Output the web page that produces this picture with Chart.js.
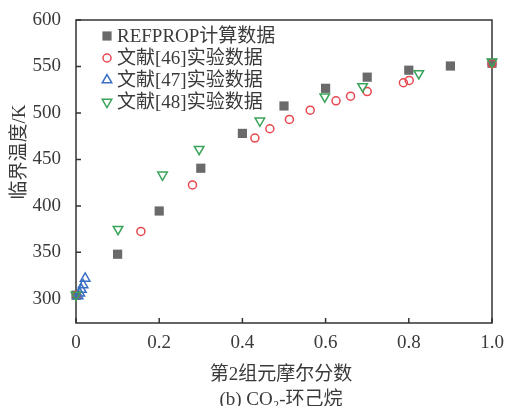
<!DOCTYPE html>
<html>
<head>
<meta charset="utf-8">
<script src="https://cdn.jsdelivr.net/npm/chart.js@4.4.1/dist/chart.umd.min.js"></script>
<style>body{margin:0;background:#fff}</style>
</head>
<body>
<canvas id="chart" width="506" height="406"></canvas>
<script>
var seriesNames = ['REFPROP计算数据', '文献[46]实验数据', '文献[47]实验数据', '文献[48]实验数据'];

var refpropX = [0, 0.1, 0.2, 0.3, 0.4, 0.5, 0.6, 0.7, 0.8, 0.9, 1.0];
var refpropT = [304, 348, 394.5, 440.5, 478, 507.5, 526.5, 538.5, 546, 550.5, 553.5];

var ref46X = [0.002, 0.156, 0.28, 0.43, 0.466, 0.513, 0.563, 0.625, 0.66, 0.70, 0.787, 0.801, 1.0];
var ref46T = [304, 372.5, 422.5, 473, 483, 493, 503, 513, 518, 523, 532.5, 535, 553];

var ref47X = [0.005, 0.009, 0.013, 0.017, 0.022];
var ref47T = [303, 306, 310, 315, 322];

var ref48X = [0, 0.101, 0.208, 0.296, 0.442, 0.598, 0.689, 0.824, 1.0];
var ref48T = [304, 375, 433.5, 461, 491.5, 517.5, 528.5, 542.5, 555];

var xTicks = [0, 0.2, 0.4, 0.6, 0.8, 1.0];
var xTickLabels = ['0', '0.2', '0.4', '0.6', '0.8', '1.0'];
var yTicks = [300, 350, 400, 450, 500, 550, 600];

var xTitle = '第2组元摩尔分数';
var caption = '(b) CO\u2082-环己烷';
var yTitle = '临界温度/K';

var fontFam = '"Liberation Serif", "Noto Sans CJK SC", serif';
var textColor = '#3a3a3a';
var axisColor = '#333';

function pts(xs, ys) {
    return xs.map(function (x, i) { return {x: x, y: ys[i]}; });
}

// frame, inward ticks and titles
var framePlugin = {
    id: 'frame',
    beforeDatasetsDraw: function (chart) {
        var ctx = chart.ctx, a = chart.chartArea;
        var xs = chart.scales.x, ys = chart.scales.y;
        ctx.save();
        ctx.strokeStyle = axisColor;
        ctx.lineWidth = 1.5;
        ctx.strokeRect(a.left, a.top, a.right - a.left, a.bottom - a.top);
        ctx.beginPath();
        yTicks.forEach(function (v) {
            var p = ys.getPixelForValue(v);
            ctx.moveTo(a.left, p);
            ctx.lineTo(a.left + 5, p);
        });
        xTicks.forEach(function (v) {
            var p = xs.getPixelForValue(v);
            ctx.moveTo(p, a.bottom);
            ctx.lineTo(p, a.bottom - 5);
        });
        ctx.stroke();
        ctx.restore();
    },
    afterDraw: function (chart) {
        var ctx = chart.ctx;
        ctx.save();
        ctx.fillStyle = textColor;
        ctx.font = '19px ' + fontFam;
        ctx.textAlign = 'center';
        ctx.textBaseline = 'middle';
        ctx.fillText(xTitle, 281, 375);
        ctx.fillText(caption, 281, 400);
        ctx.translate(20, 152);
        ctx.rotate(-Math.PI / 2);
        ctx.fillText(yTitle, 0, 0);
        ctx.restore();

        // legend inside the plot
        ctx.save();
        ctx.font = '19px ' + fontFam;
        ctx.textAlign = 'left';
        ctx.textBaseline = 'middle';
        chart.data.datasets.forEach(function (ds, i) {
            var y = 36 + i * 22;
            ctx.fillStyle = ds.backgroundColor;
            ctx.strokeStyle = ds.borderColor;
            ctx.lineWidth = ds.borderWidth;
            Chart.helpers.drawPoint(ctx, {
                pointStyle: ds.pointStyle,
                radius: ds.pointRadius,
                rotation: ds.pointRotation || 0,
                borderWidth: ds.borderWidth
            }, 107, y);
            ctx.fillStyle = textColor;
            ctx.fillText(ds.label, 117, y + 1);
        });
        ctx.restore();
    }
};

new Chart('chart', {
    type: 'scatter',
    data: {
        datasets: [{
            label: seriesNames[0],
            data: pts(refpropX, refpropT),
            pointStyle: 'rect',
            pointRadius: 6.5,
            backgroundColor: '#6a6a6a',
            borderColor: '#6a6a6a',
            borderWidth: 0,
            order: 4
        }, {
            label: seriesNames[1],
            data: pts(ref46X, ref46T),
            pointStyle: 'circle',
            pointRadius: 4,
            backgroundColor: 'rgba(0,0,0,0)',
            borderColor: '#e8474f',
            borderWidth: 1.5,
            order: 3
        }, {
            label: seriesNames[2],
            data: pts(ref47X, ref47T),
            pointStyle: 'triangle',
            pointRadius: 5.5,
            backgroundColor: 'rgba(0,0,0,0)',
            borderColor: '#3a6fc4',
            borderWidth: 1.5,
            order: 2
        }, {
            label: seriesNames[3],
            data: pts(ref48X, ref48T),
            pointStyle: 'triangle',
            pointRotation: 180,
            pointRadius: 5.5,
            backgroundColor: 'rgba(0,0,0,0)',
            borderColor: '#3aa35a',
            borderWidth: 1.5,
            order: 1
        }]
    },
    options: {
        responsive: false,
        animation: false,
        clip: false,
        layout: {padding: {top: 20, right: 14, left: 0, bottom: 0}},
        plugins: {
            legend: {display: false},
            tooltip: {enabled: false}
        },
        scales: {
            x: {
                type: 'linear',
                min: 0,
                max: 1,
                afterBuildTicks: function (s) {
                    s.ticks = xTicks.map(function (v) { return {value: v}; });
                },
                afterFit: function (s) { s.height = 83; },
                grid: {display: false},
                border: {display: false},
                ticks: {
                    padding: 1,
                    maxRotation: 0,
                    color: textColor,
                    font: {family: fontFam, size: 19},
                    callback: function (v) {
                        var i = xTicks.indexOf(v);
                        return i >= 0 ? xTickLabels[i] : '';
                    }
                }
            },
            y: {
                min: 274,
                max: 600,
                afterBuildTicks: function (s) {
                    s.ticks = yTicks.map(function (v) { return {value: v}; });
                },
                afterFit: function (s) { s.width = 76; },
                grid: {display: false},
                border: {display: false},
                ticks: {
                    padding: 7,
                    color: textColor,
                    font: {family: fontFam, size: 19}
                }
            }
        }
    },
    plugins: [framePlugin]
});
</script>
</body>
</html>
